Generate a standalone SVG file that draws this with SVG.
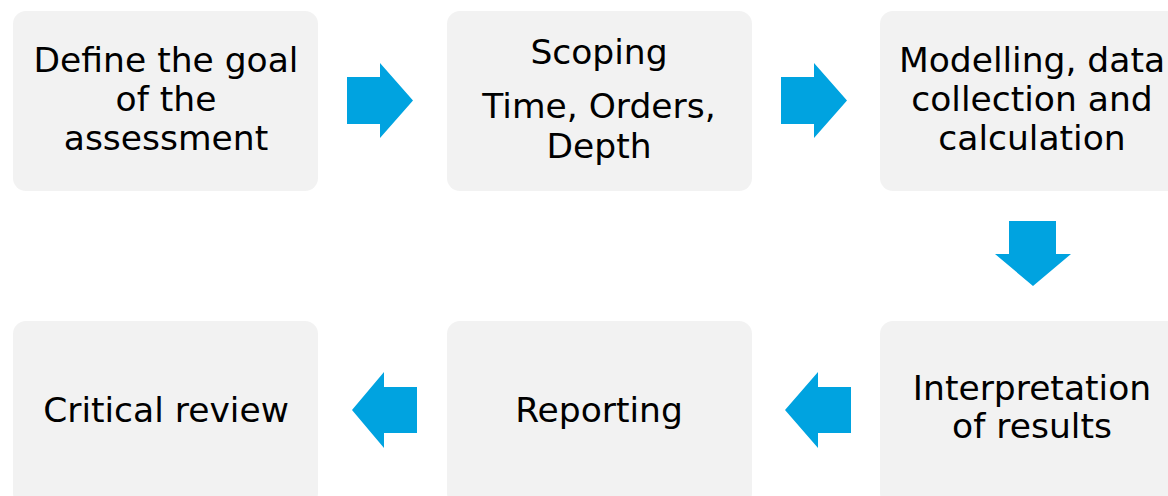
<svg xmlns="http://www.w3.org/2000/svg" width="1168" height="496" viewBox="0 0 1168 496">
<style>
.box{fill:#f2f2f2}
.t{font-family:"DejaVu Sans","Liberation Sans",sans-serif;font-size:34.5px;fill:#000;text-anchor:middle}
.arr{fill:#00a3e0}
</style>
<rect width="1168" height="496" fill="#fff"/>
<g id="n1"><rect class="box" x="13" y="11" width="305" height="180" rx="13"/>
<text class="t" x="166" y="72">Define the goal</text><text class="t" x="166" y="111">of the</text><text class="t" x="166" y="150">assessment</text></g>
<g id="n2"><rect class="box" x="447" y="11" width="305" height="180" rx="13"/>
<text class="t" x="599" y="64">Scoping</text><text class="t" x="599" y="118">Time, Orders,</text><text class="t" x="599" y="158">Depth</text></g>
<g id="n3"><rect class="box" x="880" y="11" width="305" height="180" rx="13"/>
<text class="t" x="1032" y="72">Modelling, data</text><text class="t" x="1032" y="111">collection and</text><text class="t" x="1032" y="150">calculation</text></g>
<g id="n4"><rect class="box" x="880" y="321" width="305" height="185" rx="13"/>
<text class="t" x="1032" y="400">Interpretation</text><text class="t" x="1032" y="438">of results</text></g>
<g id="n5"><rect class="box" x="447" y="321" width="305" height="185" rx="13"/>
<text class="t" x="599" y="422">Reporting</text></g>
<g id="n6"><rect class="box" x="13" y="321" width="305" height="185" rx="13"/>
<text class="t" x="166" y="422">Critical review</text></g>
<g id="connectors">
<polygon class="arr" points="347,77 380,77 380,63 413,100.5 380,138 380,124 347,124"/>
<polygon class="arr" points="781,77 814,77 814,63 847,100.5 814,138 814,124 781,124"/>
<polygon class="arr" points="1009,221 1056,221 1056,254 1071,254 1033,286 995,254 1009,254"/>
<polygon class="arr" points="851,387 818,387 818,372 785,410 818,448 818,433 851,433"/>
<polygon class="arr" points="417,387 384,387 384,372 352,410 384,448 384,433 417,433"/>
</g>
</svg>
